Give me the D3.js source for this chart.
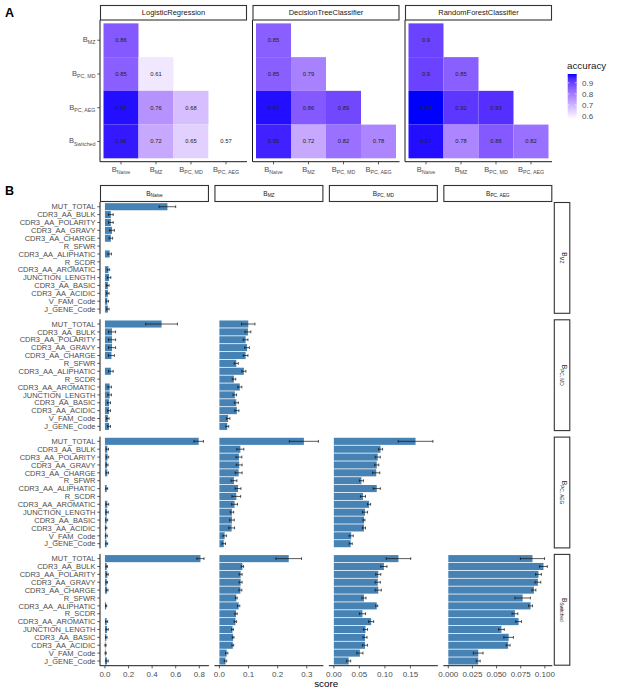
<!DOCTYPE html>
<html>
<head>
<meta charset="utf-8">
<script src="https://cdn.jsdelivr.net/npm/d3@7"></script>
<style>
body { margin: 0; background: #fff; }
svg { font-family: "Liberation Sans", Arial, sans-serif; }
</style>
</head>
<body>
<svg width="617" height="694"></svg>
<script>
// ---- data ----
const models = ["LogisticRegression", "DecisionTreeClassifier", "RandomForestClassifier"];
const heatCols = ["Naive", "MZ", "PC, MD", "PC, AEG"];
const heatRows = ["MZ", "PC, MD", "PC, AEG", "Switched"];

// accuracy, rows = heatRows, cols = heatCols (null = no tile)
const accLogReg = [
    [0.86, null, null, null],
    [0.85, 0.61, null, null],
    [0.97, 0.76, 0.68, null],
    [0.96, 0.72, 0.65, 0.57]
];
const accTree = [
    [0.85, null, null, null],
    [0.85, 0.79, null, null],
    [0.97, 0.86, 0.89, null],
    [0.95, 0.72, 0.82, 0.78]
];
const accForest = [
    [0.9, null, null, null],
    [0.9, 0.85, null, null],
    [0.98, 0.92, 0.93, null],
    [0.97, 0.78, 0.86, 0.82]
];
const legendTicks = [0.6, 0.7, 0.8, 0.9];

const features = ["MUT_TOTAL", "CDR3_AA_BULK", "CDR3_AA_POLARITY", "CDR3_AA_GRAVY",
    "CDR3_AA_CHARGE", "R_SFWR", "CDR3_AA_ALIPHATIC", "R_SCDR", "CDR3_AA_AROMATIC",
    "JUNCTION_LENGTH", "CDR3_AA_BASIC", "CDR3_AA_ACIDIC", "V_FAM_Code", "J_GENE_Code"];

// feature importance score (mean, sd), one pair per facet (row class vs column class)
const mzNaiveMean  = [0.53, 0.05, 0.05, 0.06, 0.05, 0, 0.04, 0, 0.03, 0.035, 0.025, 0.025, 0.02, 0.025];
const mzNaiveSd    = [0.07, 0.02, 0.02, 0.02, 0.015, 0, 0.015, 0, 0.01, 0.015, 0.01, 0.01, 0.01, 0.01];

const mdNaiveMean  = [0.48, 0.06, 0.06, 0.06, 0.055, 0, 0.05, 0, 0.04, 0.04, 0.035, 0.035, 0.025, 0.035];
const mdNaiveSd    = [0.135, 0.03, 0.03, 0.03, 0.025, 0, 0.02, 0, 0.015, 0.015, 0.012, 0.012, 0.01, 0.012];
const mdMzMean     = [0.099, 0.098, 0.09, 0.095, 0.09, 0.058, 0.084, 0.05, 0.07, 0.053, 0.058, 0.06, 0.03, 0.027];
const mdMzSd       = [0.023, 0.01, 0.008, 0.008, 0.008, 0.007, 0.007, 0.006, 0.007, 0.006, 0.007, 0.007, 0.006, 0.005];

const aegNaiveMean = [0.795, 0.02, 0.022, 0.018, 0.02, 0, 0.015, 0, 0.02, 0.018, 0.015, 0.01, 0.012, 0.015];
const aegNaiveSd   = [0.04, 0.01, 0.01, 0.008, 0.01, 0, 0.008, 0, 0.012, 0.01, 0.008, 0.006, 0.008, 0.008];
const aegMzMean    = [0.29, 0.072, 0.067, 0.068, 0.066, 0.05, 0.064, 0.058, 0.052, 0.043, 0.043, 0.042, 0.018, 0.015];
const aegMzSd      = [0.05, 0.012, 0.01, 0.01, 0.012, 0.01, 0.01, 0.015, 0.01, 0.006, 0.008, 0.01, 0.006, 0.006];
const aegMdMean    = [0.16, 0.0915, 0.086, 0.084, 0.083, 0.054, 0.084, 0.057, 0.069, 0.061, 0.059, 0.059, 0.034, 0.033];
const aegMdSd      = [0.034, 0.004, 0.005, 0.004, 0.007, 0.004, 0.007, 0.005, 0.003, 0.005, 0.002, 0.003, 0.004, 0.003];

const swNaiveMean  = [0.81, 0.015, 0.02, 0.015, 0.018, 0, 0.01, 0, 0.015, 0.018, 0.012, 0.005, 0.006, 0.018];
const swNaiveSd    = [0.03, 0.006, 0.008, 0.006, 0.008, 0, 0.005, 0, 0.008, 0.01, 0.006, 0.005, 0.005, 0.01];
const swMzMean     = [0.238, 0.079, 0.073, 0.073, 0.072, 0.058, 0.066, 0.057, 0.055, 0.045, 0.047, 0.046, 0.025, 0.021];
const swMzSd       = [0.044, 0.004, 0.005, 0.005, 0.005, 0.003, 0.004, 0.004, 0.004, 0.003, 0.003, 0.003, 0.004, 0.004];
const swMdMean     = [0.1265, 0.098, 0.087, 0.086, 0.087, 0.059, 0.084, 0.056, 0.073, 0.062, 0.061, 0.061, 0.051, 0.029];
const swMdSd       = [0.024, 0.006, 0.005, 0.005, 0.006, 0.004, 0.002, 0.006, 0.005, 0.004, 0.004, 0.005, 0.006, 0.004];
const swAegMean    = [0.0872, 0.0986, 0.0934, 0.0928, 0.0887, 0.077, 0.0852, 0.069, 0.0728, 0.055, 0.0625, 0.062, 0.031, 0.031];
const swAegSd      = [0.0125, 0.004, 0.003, 0.003, 0.002, 0.008, 0.002, 0.003, 0.003, 0.003, 0.005, 0.002, 0.005, 0.002];

const colTicks = [[0, 0.2, 0.4, 0.6, 0.8], [0, 0.1, 0.2, 0.3], [0, 0.05, 0.1, 0.15], [0, 0.025, 0.05, 0.075, 0.1]];
const colTickFmt = [".1f", ".1f", ".2f", ".3f"];

// ---- setup ----
const svg = d3.select("svg");
const axisCol = "#4D4D4D";
const lineCol = "#1a1a1a";

function bLabel(text, sub, big, small) {
    text.append("tspan").attr("font-size", big).text("B");
    text.append("tspan").attr("font-size", small).attr("dy", big * 0.28).text(sub);
}

// ---- panel A : heatmaps ----
const accTables = [accLogReg, accTree, accForest];
const allAcc = accTables.flat(2).filter(v => v !== null);
const color = d3.scaleLinear()
    .domain(d3.extent(allAcc))
    .range(["#ffffff", "#0000ff"])
    .interpolate(d3.interpolateLab);

const aX0 = 100, aW = 147, aGap = 5.5, aTop = 20, aBottom = 161.7;

svg.append("text").attr("x", 5).attr("y", 17)
    .attr("font-size", 12.5).attr("font-weight", "bold").text("A");

models.forEach((m, mi) => {
    const x0 = aX0 + mi * (aW + aGap);
    const x = d3.scaleBand().domain(heatCols).range([x0, x0 + aW]).paddingOuter(0.1);
    const y = d3.scaleBand().domain(heatRows).range([aTop, aBottom]).paddingOuter(0.1);
    const g = svg.append("g");

    // strip
    g.append("rect").attr("x", x0 + 0.5).attr("y", 5.5).attr("width", aW - 1).attr("height", 14.5)
        .attr("fill", "#fff").attr("stroke", "#333").attr("stroke-width", 1.1);
    g.append("text").attr("x", x0 + aW / 2).attr("y", 15.4).attr("text-anchor", "middle")
        .attr("font-size", 7.5).attr("fill", "#1a1a1a").text(m);

    const cells = [];
    accTables[mi].forEach((row, ri) => row.forEach((v, ci) => {
        if (v !== null) cells.push({ r: heatRows[ri], c: heatCols[ci], v: v });
    }));

    g.selectAll("rect.tile").data(cells).enter().append("rect")
        .attr("class", "tile")
        .attr("x", d => x(d.c)).attr("y", d => y(d.r))
        .attr("width", x.bandwidth()).attr("height", y.bandwidth())
        .attr("fill", d => color(d.v));

    g.selectAll("text.val").data(cells).enter().append("text")
        .attr("class", "val")
        .attr("x", d => x(d.c) + x.bandwidth() / 2)
        .attr("y", d => y(d.r) + y.bandwidth() / 2 + 2)
        .attr("text-anchor", "middle").attr("font-size", 5.8).attr("fill", "#222")
        .text(d => String(d.v));

    // axis lines
    g.append("line").attr("x1", x0).attr("x2", x0).attr("y1", aTop).attr("y2", aBottom)
        .attr("stroke", lineCol).attr("stroke-width", 1);
    g.append("line").attr("x1", x0).attr("x2", x0 + aW).attr("y1", aBottom).attr("y2", aBottom)
        .attr("stroke", lineCol).attr("stroke-width", 1);

    heatCols.forEach(c => {
        const cx = x(c) + x.bandwidth() / 2;
        g.append("line").attr("x1", cx).attr("x2", cx).attr("y1", aBottom).attr("y2", aBottom + 2.7)
            .attr("stroke", "#333").attr("stroke-width", 0.8);
        const t = g.append("text").attr("x", cx).attr("y", 172).attr("text-anchor", "middle")
            .attr("fill", axisCol);
        bLabel(t, c, 7.5, 5.3);
    });

    if (mi === 0) {
        heatRows.forEach(r => {
            const cy = y(r) + y.bandwidth() / 2;
            g.append("line").attr("x1", x0 - 2.7).attr("x2", x0).attr("y1", cy).attr("y2", cy)
                .attr("stroke", "#333").attr("stroke-width", 0.8);
            const t = g.append("text").attr("x", x0 - 4.5).attr("y", cy + 2)
                .attr("text-anchor", "end").attr("fill", axisCol);
            bLabel(t, r, 7.5, 5.3);
        });
    }
});

// legend
const lg = svg.append("g");
lg.append("text").attr("x", 567).attr("y", 69).attr("font-size", 9.8).attr("fill", "#1a1a1a").text("accuracy");
const barTop = 74, barBottom = 119.3, barX = 567.7, barW = 9;
const ly = d3.scaleLinear().domain(d3.extent(allAcc)).range([barBottom, barTop]);
const defs = svg.append("defs");
const grad = defs.append("linearGradient").attr("id", "accGrad")
    .attr("x1", 0).attr("x2", 0).attr("y1", 1).attr("y2", 0);
d3.range(0, 1.0001, 0.1).forEach(t => {
    const v = ly.domain()[0] + t * (ly.domain()[1] - ly.domain()[0]);
    grad.append("stop").attr("offset", t).attr("stop-color", color(v));
});
lg.append("rect").attr("x", barX).attr("y", barTop).attr("width", barW).attr("height", barBottom - barTop)
    .attr("fill", "url(#accGrad)");
legendTicks.forEach(v => {
    lg.append("line").attr("x1", barX).attr("x2", barX + 1.8).attr("y1", ly(v)).attr("y2", ly(v))
        .attr("stroke", "#fff").attr("stroke-width", 0.6);
    lg.append("line").attr("x1", barX + barW - 1.8).attr("x2", barX + barW).attr("y1", ly(v)).attr("y2", ly(v))
        .attr("stroke", "#fff").attr("stroke-width", 0.6);
    lg.append("text").attr("x", 582).attr("y", ly(v) + 2.9).attr("font-size", 8).attr("fill", axisCol)
        .text(d3.format(".1f")(v));
});

// ---- panel B : feature importance ----
const panelsB = [
    { row: 0, col: 0, mean: mzNaiveMean, sd: mzNaiveSd },
    { row: 1, col: 0, mean: mdNaiveMean, sd: mdNaiveSd },
    { row: 1, col: 1, mean: mdMzMean, sd: mdMzSd },
    { row: 2, col: 0, mean: aegNaiveMean, sd: aegNaiveSd },
    { row: 2, col: 1, mean: aegMzMean, sd: aegMzSd },
    { row: 2, col: 2, mean: aegMdMean, sd: aegMdSd },
    { row: 3, col: 0, mean: swNaiveMean, sd: swNaiveSd },
    { row: 3, col: 1, mean: swMzMean, sd: swMzSd },
    { row: 3, col: 2, mean: swMdMean, sd: swMdSd },
    { row: 3, col: 3, mean: swAegMean, sd: swAegSd }
];

const bX0 = 100, bW = 108.95, bGap = 5.5, bTop = 202, bH = 111.8, bRowGap = 5.5;

svg.append("text").attr("x", 5).attr("y", 195)
    .attr("font-size", 12.5).attr("font-weight", "bold").text("B");

// free x scale per column
const xCols = heatCols.map((c, ci) => {
    const maxV = d3.max(panelsB.filter(p => p.col === ci),
        p => d3.max(p.mean.map((m, i) => m + p.sd[i])));
    const x0 = bX0 + ci * (bW + bGap);
    const s = d3.scaleLinear().domain([-0.05 * maxV, 1.05 * maxV]).range([x0, x0 + bW]);
    return s;
});

// column strips
heatCols.forEach((c, ci) => {
    const x0 = bX0 + ci * (bW + bGap);
    svg.append("rect").attr("x", x0 + 0.5).attr("y", 185.5).attr("width", bW - 1).attr("height", 16)
        .attr("fill", "#fff").attr("stroke", "#333").attr("stroke-width", 1.1);
    const t = svg.append("text").attr("x", x0 + bW / 2).attr("y", 195.5)
        .attr("text-anchor", "middle").attr("fill", "#1a1a1a");
    bLabel(t, c, 6.5, 4.8);
});

heatRows.forEach((r, ri) => {
    const top = bTop + ri * (bH + bRowGap);
    const y = d3.scaleBand().domain(features).range([top, top + bH])
        .paddingInner(0.1).paddingOuter(0.15);

    // row strip
    svg.append("rect").attr("x", 554.3).attr("y", top + 0.5).attr("width", 15.5).attr("height", bH - 1)
        .attr("fill", "#fff").attr("stroke", "#333").attr("stroke-width", 1.1);
    const t = svg.append("text")
        .attr("transform", `translate(${562},${top + bH / 2}) rotate(90)`)
        .attr("text-anchor", "middle").attr("fill", "#1a1a1a");
    bLabel(t, r, 6.5, 4.8);

    // y axis on the first column
    svg.append("line").attr("x1", bX0).attr("x2", bX0).attr("y1", top).attr("y2", top + bH)
        .attr("stroke", lineCol).attr("stroke-width", 1);
    features.forEach(f => {
        const cy = y(f) + y.bandwidth() / 2;
        svg.append("line").attr("x1", bX0 - 2.7).attr("x2", bX0).attr("y1", cy).attr("y2", cy)
            .attr("stroke", "#333").attr("stroke-width", 0.8);
        svg.append("text").attr("x", bX0 - 4.5).attr("y", cy + 2.7)
            .attr("text-anchor", "end").attr("font-size", 7.5).attr("fill", axisCol).text(f);
    });

    panelsB.filter(p => p.row === ri).forEach(p => {
        const x = xCols[p.col];
        const rows = features.map((f, i) => ({ f: f, m: p.mean[i], s: p.sd[i] }));
        const g = svg.append("g");

        g.selectAll("rect").data(rows.filter(d => d.m > 0)).enter().append("rect")
            .attr("x", x(0)).attr("y", d => y(d.f))
            .attr("width", d => x(d.m) - x(0)).attr("height", y.bandwidth())
            .attr("fill", "#4682B4");

        const eb = g.selectAll("g.eb").data(rows.filter(d => d.m > 0)).enter().append("g")
            .attr("class", "eb")
            .attr("stroke", "#111").attr("stroke-width", 0.7);
        eb.append("line")
            .attr("x1", d => x(d.m - d.s)).attr("x2", d => x(d.m + d.s))
            .attr("y1", d => y(d.f) + y.bandwidth() / 2).attr("y2", d => y(d.f) + y.bandwidth() / 2);
        [-1, 1].forEach(k => {
            eb.append("line")
                .attr("x1", d => x(d.m + k * d.s)).attr("x2", d => x(d.m + k * d.s))
                .attr("y1", d => y(d.f) + y.bandwidth() / 2 - 1.4)
                .attr("y2", d => y(d.f) + y.bandwidth() / 2 + 1.4);
        });
    });
});

// bottom axes
const bBottom = bTop + 4 * bH + 3 * bRowGap;
heatCols.forEach((c, ci) => {
    const x = xCols[ci];
    const g = svg.append("g").attr("transform", `translate(0,${bBottom})`);
    g.append("line").attr("x1", x.range()[0]).attr("x2", x.range()[1]).attr("y1", 0).attr("y2", 0)
        .attr("stroke", lineCol).attr("stroke-width", 1);
    colTicks[ci].forEach(v => {
        g.append("line").attr("x1", x(v)).attr("x2", x(v)).attr("y1", 0).attr("y2", 2.7)
            .attr("stroke", "#333").attr("stroke-width", 0.8);
        g.append("text").attr("x", x(v)).attr("y", 11.3).attr("text-anchor", "middle")
            .attr("font-size", 8).attr("fill", axisCol).text(d3.format(colTickFmt[ci])(v));
    });
});

svg.append("text").attr("x", (bX0 + bX0 + 4 * bW + 3 * bGap) / 2).attr("y", 687)
    .attr("text-anchor", "middle").attr("font-size", 9.8).attr("fill", "#000").text("score");
</script>
</body>
</html>
